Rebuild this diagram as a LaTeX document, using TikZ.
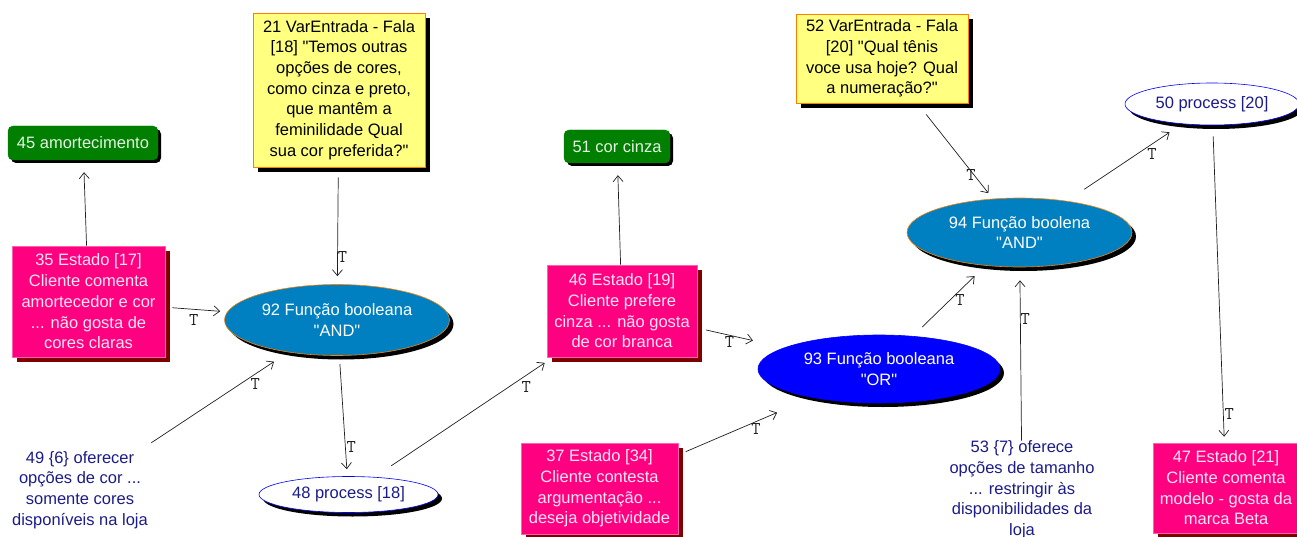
\documentclass[tikz,border=0pt]{standalone}
\usepackage{fontspec}
% plain family: no TeX quote mapping, so " stays a straight quote
\newfontfamily\diagfont{Liberation Sans}
\usetikzlibrary{shapes.geometric,shadows,arrows.meta}

\definecolor{leafgreen}{HTML}{007F00}
\definecolor{leaftext}{HTML}{E4F4E4}
\definecolor{statefill}{HTML}{FF0080}
\definecolor{stateedge}{HTML}{FF60B0}
\definecolor{statetext}{HTML}{FFE6F2}
\definecolor{stateshadow}{HTML}{800000}
\definecolor{speechfill}{HTML}{FFFF80}
\definecolor{speechedge}{HTML}{FF8000}
\definecolor{andfill}{HTML}{0080C0}
\definecolor{orfill}{HTML}{0000FF}
\definecolor{navytext}{HTML}{1C1C88}
\definecolor{linkgray}{HTML}{202020}

\begin{document}
\begin{tikzpicture}[x=1pt,y=-1pt,
  every node/.style={font=\diagfont\fontsize{16.5}{20.7}\selectfont, align=center, inner sep=0pt},
  leaf/.style={draw=leafgreen, fill=leafgreen, text=leaftext, rounded corners=5pt,
    minimum height=34pt,
    drop shadow={shadow xshift=3pt, shadow yshift=-3pt, fill=black, opacity=1}},
  speech/.style={draw=speechedge, line width=0.8pt, fill=speechfill, text=black,
    minimum width=172pt,
    drop shadow={shadow xshift=5pt, shadow yshift=-5pt, fill=black, opacity=1}},
  state/.style={draw=stateedge, line width=0.6pt, fill=statefill, text=statetext,
    drop shadow={shadow xshift=5pt, shadow yshift=-5pt, fill=stateshadow, opacity=1}},
  boolfn/.style={ellipse, draw=speechedge, line width=0.6pt, fill=andfill, text=white,
    drop shadow={shadow xshift=4pt, shadow yshift=-4pt, fill=black, opacity=1}},
  process/.style={ellipse, draw=orfill, line width=0.6pt, fill=white, text=navytext,
    drop shadow={shadow xshift=4pt, shadow yshift=-4pt, fill=black, opacity=1}},
  action/.style={text=navytext},
  link/.style={draw=linkgray, line width=0.7pt, -{Straight Barb[length=6pt,width=10pt]}},
  tlab/.style={font=\ttfamily\fontsize{18}{18}\selectfont, text=linkgray, inner sep=0pt}
]
\useasboundingbox (0,0) rectangle (1297,537);

% conditions and input speech
\node[leaf, minimum width=150pt] (n45) at (83,143) {45 amortecimento};
\node[leaf, minimum width=106pt, minimum height=33pt] (n51) at (617,146.5) {51 cor cinza};

\node[speech, minimum height=154pt] (n21) at (339,90)
  {21 VarEntrada - Fala\\{}[18] "Temos outras\\opções de cores,\\como cinza e preto,\\que mantêm a\\feminilidade Qual\\sua cor preferida?"};
\node[speech, minimum height=89pt] (n52) at (882,58.5)
  {52 VarEntrada - Fala\\{}[20] "Qual tênis\\voce usa hoje? Qual\\a numeração?"};

% states
\node[state, minimum width=153pt, minimum height=111pt] (n35) at (88.5,301.5)
  {35 Estado [17]\\Cliente comenta\\amortecedor e cor\\... não gosta de\\cores claras};
\node[state, minimum width=150pt, minimum height=92pt] (n46) at (622,311)
  {46 Estado [19]\\Cliente prefere\\cinza ... não gosta\\de cor branca};
\node[state, minimum width=157pt, minimum height=91pt] (n37) at (599.5,488.5)
  {37 Estado [34]\\Cliente contesta\\argumentação ...\\deseja objetividade};
\node[state, minimum width=146pt, minimum height=90pt] (n47) at (1226,488)
  {47 Estado [21]\\Cliente comenta\\modelo - gosta da\\marca Beta};

% boolean functions
\node[boolfn, minimum width=225pt, minimum height=71pt] (n92) at (337,320)
  {92 Função booleana\\"AND"};
\node[boolfn, draw=orfill, fill=orfill, minimum width=242pt, minimum height=68pt] (n93) at (879,369)
  {93 Função booleana\\"OR"};
\node[boolfn, minimum width=225pt, minimum height=69pt] (n94) at (1019.5,232.5)
  {94 Função boolena\\"AND"};

% processes
\node[process, minimum width=179pt, minimum height=36pt] (n48) at (348.5,494.5) {48 process [18]};
\node[process, minimum width=174pt, minimum height=42pt] (n50) at (1212,104) {50 process [20]};

% actions
\node[action] (n49) at (80,490)
  {49 \{6\} oferecer\\opções de cor ...\\somente cores\\disponíveis na loja};
\node[action] (n53) at (1022,490)
  {53 \{7\} oferece\\opções de tamanho\\... restringir às\\disponibilidades da\\loja};

% connectors
\draw[link, shorten <=0pt, shorten >=12pt] (n35) -- (n45);
\draw[link, shorten <=0pt, shorten >=12pt] (n46) -- (n51);
\draw[link, shorten <=10pt, shorten >=8pt] (n21) -- node[tlab, pos=.77, right=0pt] {T} (n92);
\draw[link, shorten <=7pt, shorten >=7pt] (n35) -- node[tlab, pos=.46, below=5pt] {T} (n92);
\draw[link, shorten <=15pt, shorten >=17pt] (n49) -- node[tlab, pos=.78, below=4pt] {T} (n92);
\draw[link, shorten <=8pt, shorten >=7pt] (n92) -- node[tlab, pos=.76, right=1pt] {T} (n48);
\draw[link, shorten <=20pt, shorten >=10pt] (n48) -- node[tlab, pos=.85, below=6pt] {T} (n46);
\draw[link, shorten <=9pt, shorten >=32pt] (n46) -- node[tlab, pos=.37, below=1pt] {T} (n93);
\draw[link, shorten <=8pt, shorten >=38pt] (n37) -- node[tlab, pos=.58, below=2pt] {T} (n93);
\draw[link, shorten <=13pt, shorten >=15pt] (n93) -- node[tlab, pos=.65, below=4pt] {T} (n94);
\draw[link, shorten <=0pt, shorten >=13pt] (n53) -- node[tlab, pos=.7, right=0pt] {T} (n94);
\draw[link, shorten <=14pt, shorten >=7pt] (n52) -- node[tlab, pos=.75, xshift=-3pt] {T} (n94);
\draw[link, shorten <=21pt, shorten >=15pt] (n94) -- node[tlab, pos=.74, below=4pt] {T} (n50);
\draw[link, shorten <=11pt, shorten >=6pt] (n50) -- node[tlab, pos=.91, right=1pt] {T} (n47);
\end{tikzpicture}
\end{document}
